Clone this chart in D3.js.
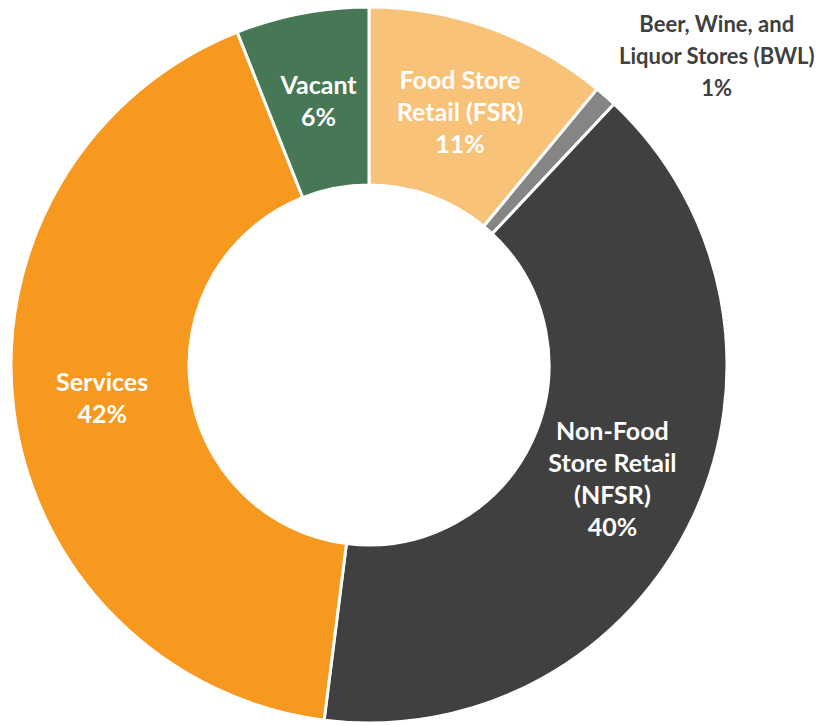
<!DOCTYPE html>
<html>
<head>
<meta charset="utf-8">
<script src="https://cdn.jsdelivr.net/npm/d3@7"></script>
<style>
  html, body { margin: 0; padding: 0; background: #fff; }
  svg text { font-family: Lato, "Open Sans", sans-serif; font-weight: 700; }
</style>
</head>
<body>
<svg id="chart" width="818" height="725"></svg>
<script>
// Space use by category, clockwise from 12 o'clock
const categories = ["Food Store Retail (FSR)", "Beer, Wine, and Liquor Stores (BWL)", "Non-Food Store Retail (NFSR)", "Services", "Vacant"];
const labelLines = [
  ["Food Store", "Retail (FSR)"],
  ["Beer, Wine, and", "Liquor Stores (BWL)"],
  ["Non-Food", "Store Retail", "(NFSR)"],
  ["Services"],
  ["Vacant"]
];
const shares = [11, 1, 40, 42, 6];
const colors = ["#F9C279", "#858585", "#404040", "#F7991F", "#467856"];

const width = 818, height = 725;
const cx = 369, cy = 365;
const outerR = 358, innerR = 180;
const lineH = 32;

const svg = d3.select("#chart");
const g = svg.append("g").attr("transform", `translate(${cx},${cy})`);

const pie = d3.pie().sort(null).value(d => d.value);
const data = categories.map((c, i) => ({ name: c, value: shares[i], lines: labelLines[i], color: colors[i] }));
const arcs = pie(data);

const arc = d3.arc().innerRadius(innerR).outerRadius(outerR);
const labelArc = d3.arc().innerRadius(innerR).outerRadius(outerR);

g.selectAll("path.slice")
  .data(arcs)
  .join("path")
  .attr("class", "slice")
  .attr("d", arc)
  .attr("fill", d => d.data.color)
  .attr("stroke", "#fff")
  .attr("stroke-width", 3)
  .attr("stroke-linejoin", "miter");

const fmt = v => d3.format(".0f")(v) + "%";

arcs.forEach((d, i) => {
  const small = d.data.value < 3;
  let x, y, size, fill;
  if (small) {
    // narrow slice: label placed outside, up and to the right
    const [ox, oy] = d3.arc().innerRadius(outerR).outerRadius(outerR).centroid(d);
    x = ox + 111; y = oy - 40;
    size = 22; fill = "#404040";
  } else {
    [x, y] = labelArc.centroid(d);
    size = 25; fill = "#ffffff";
  }
  const lines = d.data.lines.concat([fmt(d.data.value)]);
  const h = small ? 32 : lineH;
  const t = g.append("text")
    .attr("text-anchor", "middle")
    .attr("fill", fill)
    .attr("font-size", size);
  lines.forEach((ln, k) => {
    t.append("tspan")
      .attr("x", x)
      .attr("y", y + (k - (lines.length - 1) / 2) * h)
      .attr("dy", "0.35em")
      .text(ln);
  });
});
</script>
</body>
</html>
